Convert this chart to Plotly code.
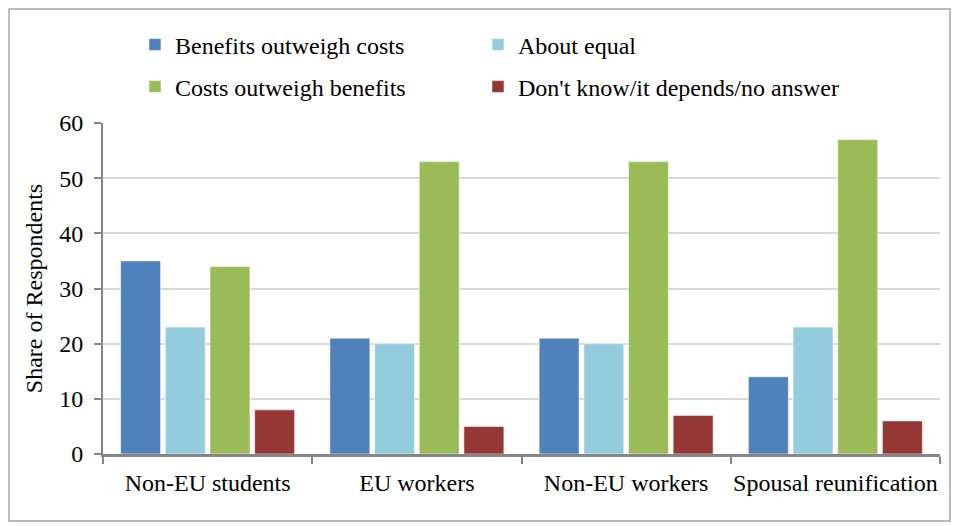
import plotly.graph_objects as go

# Survey: perceived costs vs. benefits of different migrant groups
categories = ["Non-EU students", "EU workers", "Non-EU workers", "Spousal reunification"]
benefits_outweigh = [35, 21, 21, 14]
about_equal = [23, 20, 20, 23]
costs_outweigh = [34, 53, 53, 57]
dont_know = [8, 5, 7, 6]

series_names = ["Benefits outweigh costs", "About equal",
                "Costs outweigh benefits", "Don't know/it depends/no answer"]
series_values = [benefits_outweigh, about_equal, costs_outweigh, dont_know]
series_colors = ["#4F81BD", "#93CDDD", "#9BBB59", "#953735"]

FONT = "Liberation Serif"
FS = 24

W, H = 957, 526
L, R, T, B = 103, 17, 123, 72
pw, ph = W - L - R, H - T - B


def px_x(x):
    return (x - L) / pw


def px_y(y):
    return (H - B - y) / ph


# each legend entry gets its own box: two columns, two rows
legend_ids = ["legend", "legend2", "legend3", "legend4"]
legend_pos = [(135, 45), (478, 45), (135, 87), (478, 87)]

fig = go.Figure()
for name, vals, color, leg in zip(series_names, series_values, series_colors, legend_ids):
    fig.add_trace(go.Bar(
        name=name, x=categories, y=vals,
        marker=dict(color=color, line=dict(color="rgba(255,255,255,0.55)", width=1)),
        legend=leg, showlegend=True,
    ))

legend_layout = {}
for leg, (lx, ly) in zip(legend_ids, legend_pos):
    legend_layout[leg] = dict(
        x=px_x(lx), y=px_y(ly),
        orientation="h", xanchor="left", yanchor="middle",
        font=dict(family=FONT, size=FS, color="black"),
        bgcolor="rgba(0,0,0,0)", itemclick=False, visible=True,
    )

fig.update_layout(
    template="none",
    showlegend=True,
    width=W, height=H,
    margin=dict(l=L, r=R, t=T, b=B),
    paper_bgcolor="white", plot_bgcolor="white",
    font=dict(family=FONT, size=FS, color="black"),
    barmode="group", bargap=0.146, bargroupgap=0.105,
    xaxis=dict(
        showline=True, linecolor="#868686", linewidth=3,
        ticks="outside", tickson="boundaries", ticklen=7, tickwidth=2, tickcolor="#868686",
        tickfont=dict(family=FONT, size=FS, color="black"),
        tickangle=0, ticklabelstandoff=5,
        showgrid=False,
    ),
    yaxis=dict(
        range=[0, 60], dtick=10,
        showline=True, linecolor="#868686", linewidth=2,
        ticks="outside", ticklen=7, tickwidth=2, tickcolor="#868686",
        showgrid=True, gridcolor="#D9D9D9", gridwidth=2,
        zeroline=False,
        tickfont=dict(family=FONT, size=FS, color="black"),
        ticklabelstandoff=6,
        title=dict(text="Share of Respondents", font=dict(family=FONT, size=FS, color="black"), standoff=10),
    ),
    shapes=[dict(
        type="rect", xref="paper", yref="paper",
        x0=px_x(9), x1=px_x(950), y0=px_y(521), y1=px_y(9),
        line=dict(color="#A6A6A6", width=1.5), fillcolor="rgba(0,0,0,0)", layer="below",
    )],
    **legend_layout,
)

fig.write_html("out.html")
